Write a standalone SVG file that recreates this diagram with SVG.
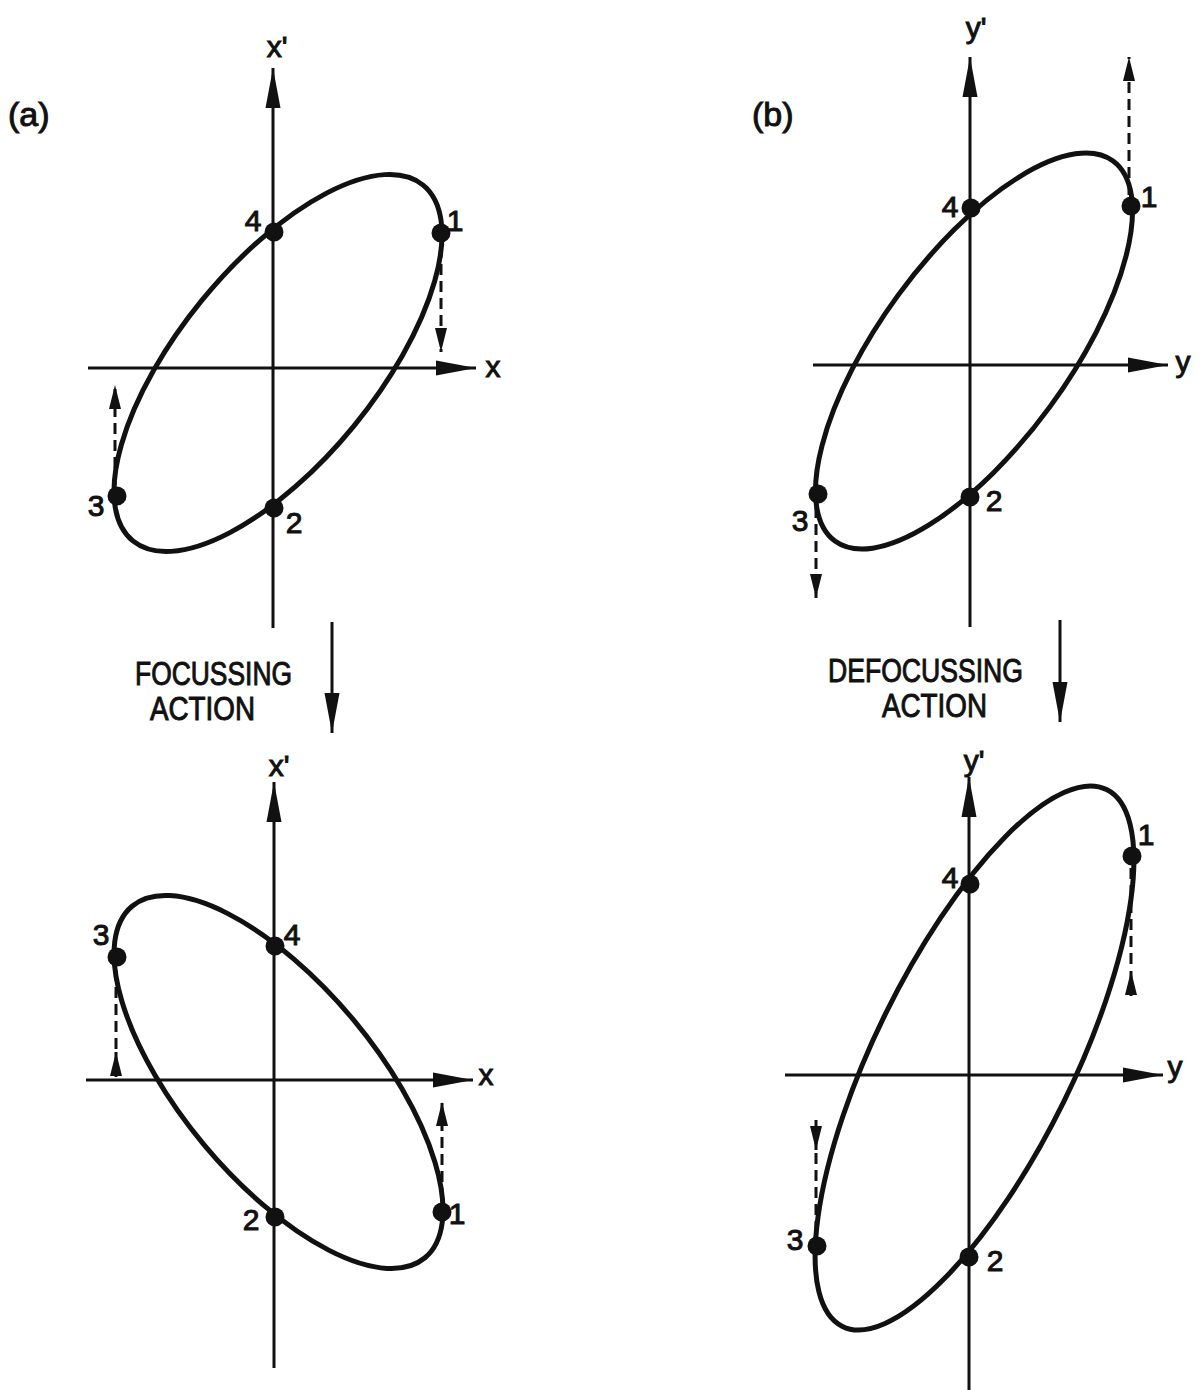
<svg xmlns="http://www.w3.org/2000/svg" width="1204" height="1390" viewBox="0 0 1204 1390">
<defs>
<style>
.ell{fill:none;stroke:#111;stroke-width:5}
.axis{stroke:#111;stroke-width:3;fill:none}
.dash{stroke:#111;stroke-width:3;stroke-dasharray:11 6;fill:none}
.solid{stroke:#111;stroke-width:3;fill:none}
.dot{fill:#111}
.t{font-family:"Liberation Sans",Arial,sans-serif;fill:#111;stroke:#111;stroke-width:1}
.num{font-size:30px;text-anchor:middle}
.ax{font-size:30px;text-anchor:middle}
.cap{font-size:34px}
.pl{font-size:34px}
</style>
<marker id="ah" markerUnits="userSpaceOnUse" viewBox="0 0 40 16" refX="40" refY="8" markerWidth="40" markerHeight="16" orient="auto"><path d="M0,0.5 L40,8 L0,15.5 Z" fill="#111"/></marker>
<marker id="sh" markerUnits="userSpaceOnUse" viewBox="0 0 24 12" refX="24" refY="6" markerWidth="24" markerHeight="12" orient="auto"><path d="M0,0 L24,6 L0,12 Z" fill="#111"/></marker>
</defs>
<rect width="1204" height="1390" fill="#fff"/>

<g id="panel-a-top">
<text class="t pl" x="8" y="126">(a)</text>
<line class="axis" x1="273" y1="628" x2="273" y2="68" marker-end="url(#ah)"/>
<line class="axis" x1="88" y1="368" x2="476" y2="368" marker-end="url(#ah)"/>
<text class="t ax" x="277" y="57">x'</text>
<text class="t ax" x="493" y="377">x</text>
<ellipse class="ell" cx="278" cy="363" rx="229.6" ry="98.6" transform="rotate(-50.8 278 363)"/>
<circle class="dot" cx="274" cy="232" r="9.5"/>
<circle class="dot" cx="441" cy="233" r="9.5"/>
<circle class="dot" cx="117" cy="496" r="9.5"/>
<circle class="dot" cx="274" cy="508" r="9.5"/>
<text class="t num" x="253" y="231">4</text>
<text class="t num" x="455" y="231">1</text>
<text class="t num" x="96" y="516">3</text>
<text class="t num" x="294" y="533">2</text>
</g>

<g id="panel-b-top">
<text class="t pl" x="752" y="126">(b)</text>
<line class="axis" x1="970" y1="627" x2="970" y2="57" marker-end="url(#ah)"/>
<line class="axis" x1="813" y1="365" x2="1168" y2="365" marker-end="url(#ah)"/>
<text class="t ax" x="976" y="38">y'</text>
<text class="t ax" x="1183" y="372">y</text>
<ellipse class="ell" cx="974" cy="351" rx="235.5" ry="94.2" transform="rotate(-53.8 974 351)"/>
<circle class="dot" cx="971" cy="208" r="9.5"/>
<circle class="dot" cx="1131" cy="206" r="9.5"/>
<circle class="dot" cx="818" cy="494" r="9.5"/>
<circle class="dot" cx="970" cy="497" r="9.5"/>
<text class="t num" x="950" y="217">4</text>
<text class="t num" x="1149" y="207">1</text>
<text class="t num" x="800" y="531">3</text>
<text class="t num" x="994" y="511">2</text>
</g>

<g id="panel-a-bottom">
<line class="axis" x1="274" y1="1368" x2="274" y2="782" marker-end="url(#ah)"/>
<line class="axis" x1="86" y1="1080" x2="473" y2="1080" marker-end="url(#ah)"/>
<text class="t ax" x="279" y="776">x'</text>
<text class="t ax" x="486" y="1085">x</text>
<ellipse class="ell" cx="278.5" cy="1082" rx="228.8" ry="97.4" transform="rotate(50.2 278.5 1082)"/>
<circle class="dot" cx="117" cy="957" r="9.5"/>
<circle class="dot" cx="275" cy="946" r="9.5"/>
<circle class="dot" cx="275" cy="1217" r="9.5"/>
<circle class="dot" cx="442" cy="1212" r="9.5"/>
<text class="t num" x="101" y="945">3</text>
<text class="t num" x="292" y="945">4</text>
<text class="t num" x="251" y="1230">2</text>
<text class="t num" x="457" y="1224">1</text>
</g>

<g id="panel-b-bottom">
<line class="axis" x1="969" y1="1392" x2="969" y2="777" marker-end="url(#ah)"/>
<line class="axis" x1="785" y1="1075" x2="1163" y2="1075" marker-end="url(#ah)"/>
<text class="t ax" x="974" y="771">y'</text>
<text class="t ax" x="1175" y="1077">y</text>
<ellipse class="ell" cx="974.5" cy="1058" rx="299.2" ry="99.4" transform="rotate(-63.8 974.5 1058)"/>
<circle class="dot" cx="1132" cy="856" r="9.5"/>
<circle class="dot" cx="970" cy="884" r="9.5"/>
<circle class="dot" cx="817" cy="1246" r="9.5"/>
<circle class="dot" cx="969" cy="1257" r="9.5"/>
<text class="t num" x="1146" y="845">1</text>
<text class="t num" x="950" y="888">4</text>
<text class="t num" x="795" y="1250">3</text>
<text class="t num" x="995" y="1271">2</text>
</g>

<g id="label-focussing">
<text class="t cap" x="135" y="685" textLength="157" lengthAdjust="spacingAndGlyphs">FOCUSSING</text>
<text class="t cap" x="150" y="720" textLength="105" lengthAdjust="spacingAndGlyphs">ACTION</text>
</g>
<g id="label-defocussing">
<text class="t cap" x="828" y="682" textLength="195" lengthAdjust="spacingAndGlyphs">DEFOCUSSING</text>
<text class="t cap" x="882" y="717" textLength="105" lengthAdjust="spacingAndGlyphs">ACTION</text>
</g>

<g id="connectors">
<line class="dash" x1="441" y1="247" x2="441" y2="352" marker-end="url(#sh)"/>
<line class="dash" x1="115" y1="485" x2="115" y2="385" marker-end="url(#sh)"/>
<line class="dash" x1="1129" y1="195" x2="1129" y2="57" marker-end="url(#sh)"/>
<line class="dash" x1="816" y1="507" x2="816" y2="598" marker-end="url(#sh)"/>
<line class="dash" x1="116" y1="970" x2="116" y2="1050"/>
<line class="solid" x1="116" y1="1077" x2="116" y2="1052" marker-end="url(#sh)"/>
<line class="dash" x1="442" y1="1199" x2="442" y2="1102" marker-end="url(#sh)"/>
<line class="dash" x1="1131" y1="868" x2="1131" y2="968"/>
<line class="solid" x1="1131" y1="996" x2="1131" y2="971" marker-end="url(#sh)"/>
<line class="solid" x1="816" y1="1120" x2="816" y2="1150" marker-end="url(#sh)"/>
<line class="dash" x1="816" y1="1153" x2="816" y2="1236"/>
<line class="solid" x1="332" y1="622" x2="332" y2="733" marker-end="url(#ah)"/>
<line class="solid" x1="1060" y1="620" x2="1060" y2="722" marker-end="url(#ah)"/>
</g>
</svg>
